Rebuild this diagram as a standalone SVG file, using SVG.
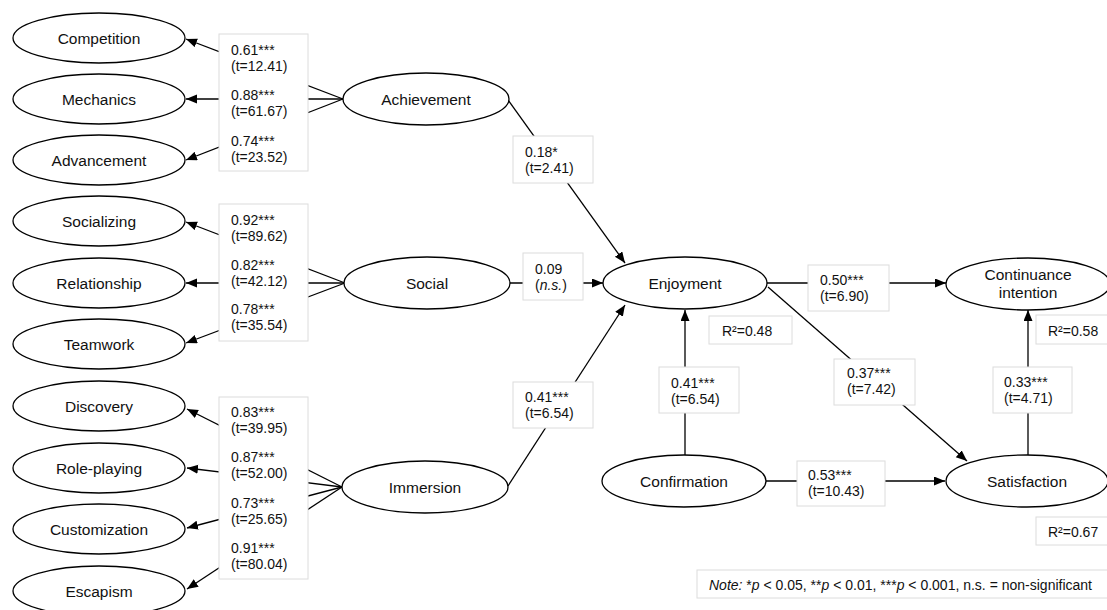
<svg xmlns="http://www.w3.org/2000/svg" width="1107" height="610" viewBox="0 0 1107 610">
<style>
.node{fill:#fff;stroke:#000;stroke-width:1.3}
.nl{font-family:"Liberation Sans",Arial,sans-serif;font-size:15.5px;fill:#111;text-anchor:middle}
.edge{stroke:#000;stroke-width:1.3;fill:none}
.box{fill:#fff;stroke:#dcdcdc;stroke-width:1}
.lb{font-family:"Liberation Sans",Arial,sans-serif;font-size:14px;fill:#111}
</style>
<defs>
<marker id="ah" markerUnits="userSpaceOnUse" markerWidth="12" markerHeight="10" refX="11" refY="4.5" orient="auto">
<path d="M0,0 L11,4.5 L0,9 z" fill="#000"/>
</marker>
</defs>
<rect width="1107" height="610" fill="#fff"/>
<g id="connectors">
<line class="edge" x1="343" y1="99" x2="186" y2="39" marker-end="url(#ah)"/>
<line class="edge" x1="343" y1="99" x2="186" y2="99" marker-end="url(#ah)"/>
<line class="edge" x1="343" y1="99" x2="186" y2="160" marker-end="url(#ah)"/>
<line class="edge" x1="345" y1="283" x2="186" y2="222" marker-end="url(#ah)"/>
<line class="edge" x1="345" y1="283" x2="186" y2="283" marker-end="url(#ah)"/>
<line class="edge" x1="345" y1="283" x2="186" y2="343" marker-end="url(#ah)"/>
<line class="edge" x1="342" y1="487" x2="187" y2="409" marker-end="url(#ah)"/>
<line class="edge" x1="342" y1="487" x2="187" y2="468" marker-end="url(#ah)"/>
<line class="edge" x1="342" y1="487" x2="187" y2="528" marker-end="url(#ah)"/>
<line class="edge" x1="342" y1="487" x2="187" y2="589" marker-end="url(#ah)"/>
<line class="edge" x1="508" y1="100" x2="625" y2="263" marker-end="url(#ah)"/>
<line class="edge" x1="510" y1="283" x2="603" y2="283" marker-end="url(#ah)"/>
<line class="edge" x1="508" y1="486" x2="625" y2="305" marker-end="url(#ah)"/>
<line class="edge" x1="767" y1="283" x2="946" y2="283" marker-end="url(#ah)"/>
<line class="edge" x1="768" y1="287" x2="967" y2="461" marker-end="url(#ah)"/>
<line class="edge" x1="685" y1="455" x2="685" y2="310" marker-end="url(#ah)"/>
<line class="edge" x1="766" y1="481" x2="945" y2="481" marker-end="url(#ah)"/>
<line class="edge" x1="1028" y1="455" x2="1028" y2="310" marker-end="url(#ah)"/>
</g>
<g id="labels">
<rect class="box" x="219" y="34" width="89" height="137"/>
<text class="lb" x="231" y="55">0.61***</text><text class="lb" x="231" y="71">(t=12.41)</text>
<text class="lb" x="231" y="100">0.88***</text><text class="lb" x="231" y="116">(t=61.67)</text>
<text class="lb" x="231" y="146">0.74***</text><text class="lb" x="231" y="162">(t=23.52)</text>
<rect class="box" x="219" y="204" width="89" height="137"/>
<text class="lb" x="231" y="225">0.92***</text><text class="lb" x="231" y="241">(t=89.62)</text>
<text class="lb" x="231" y="270">0.82***</text><text class="lb" x="231" y="286">(t=42.12)</text>
<text class="lb" x="231" y="314">0.78***</text><text class="lb" x="231" y="330">(t=35.54)</text>
<rect class="box" x="219" y="397" width="89" height="182"/>
<text class="lb" x="231" y="417">0.83***</text><text class="lb" x="231" y="433">(t=39.95)</text>
<text class="lb" x="231" y="462">0.87***</text><text class="lb" x="231" y="478">(t=52.00)</text>
<text class="lb" x="231" y="508">0.73***</text><text class="lb" x="231" y="524">(t=25.65)</text>
<text class="lb" x="231" y="553">0.91***</text><text class="lb" x="231" y="569">(t=80.04)</text>
<rect class="box" x="513" y="136" width="80" height="47"/>
<text class="lb" x="525" y="157">0.18*</text><text class="lb" x="525" y="173">(t=2.41)</text>
<rect class="box" x="523" y="253" width="60" height="47"/>
<text class="lb" x="535" y="274">0.09</text><text class="lb" x="535" y="290">(<tspan font-style="italic">n.s.</tspan>)</text>
<rect class="box" x="513" y="382" width="80" height="46"/>
<text class="lb" x="525" y="402">0.41***</text><text class="lb" x="525" y="418">(t=6.54)</text>
<rect class="box" x="808" y="265" width="81" height="46"/>
<text class="lb" x="820" y="285">0.50***</text><text class="lb" x="820" y="301">(t=6.90)</text>
<rect class="box" x="709" y="316" width="83" height="28"/>
<text class="lb" x="722" y="336">R²=0.48</text>
<rect class="box" x="1036" y="315" width="80" height="29"/>
<text class="lb" x="1048" y="336">R²=0.58</text>
<rect class="box" x="659" y="367" width="80" height="46"/>
<text class="lb" x="671" y="388">0.41***</text><text class="lb" x="671" y="404">(t=6.54)</text>
<rect class="box" x="834" y="359" width="81" height="46"/>
<text class="lb" x="847" y="378">0.37***</text><text class="lb" x="847" y="394">(t=7.42)</text>
<rect class="box" x="993" y="367" width="79" height="46"/>
<text class="lb" x="1004" y="387">0.33***</text><text class="lb" x="1004" y="403">(t=4.71)</text>
<rect class="box" x="797" y="461" width="88" height="45"/>
<text class="lb" x="808" y="480">0.53***</text><text class="lb" x="808" y="496">(t=10.43)</text>
<rect class="box" x="1036" y="517" width="80" height="28"/>
<text class="lb" x="1048" y="537">R²=0.67</text>
<rect class="box" x="697" y="570" width="420" height="28"/>
<text class="lb" x="709" y="590"><tspan font-style="italic">Note:</tspan> *<tspan font-style="italic">p</tspan> &lt; 0.05, **<tspan font-style="italic">p</tspan> &lt; 0.01, ***<tspan font-style="italic">p</tspan> &lt; 0.001, n.s. = non-significant</text>
</g>
<g id="competition"><ellipse class="node" cx="99" cy="38" rx="86" ry="25"/><text class="nl" x="99" y="43.5">Competition</text></g>
<g id="mechanics"><ellipse class="node" cx="99" cy="99" rx="86" ry="25"/><text class="nl" x="99" y="104.5">Mechanics</text></g>
<g id="advancement"><ellipse class="node" cx="99" cy="160" rx="86" ry="25"/><text class="nl" x="99" y="165.5">Advancement</text></g>
<g id="socializing"><ellipse class="node" cx="99" cy="221" rx="86" ry="25"/><text class="nl" x="99" y="226.5">Socializing</text></g>
<g id="relationship"><ellipse class="node" cx="99" cy="283" rx="86" ry="25"/><text class="nl" x="99" y="288.5">Relationship</text></g>
<g id="teamwork"><ellipse class="node" cx="99" cy="344" rx="86" ry="25"/><text class="nl" x="99" y="349.5">Teamwork</text></g>
<g id="discovery"><ellipse class="node" cx="99" cy="406" rx="86" ry="25"/><text class="nl" x="99" y="411.5">Discovery</text></g>
<g id="role-playing"><ellipse class="node" cx="99" cy="468" rx="86" ry="25"/><text class="nl" x="99" y="473.5">Role-playing</text></g>
<g id="customization"><ellipse class="node" cx="99" cy="529" rx="86" ry="25"/><text class="nl" x="99" y="534.5">Customization</text></g>
<g id="escapism"><ellipse class="node" cx="99" cy="591" rx="86" ry="25"/><text class="nl" x="99" y="596.5">Escapism</text></g>
<g id="achievement"><ellipse class="node" cx="426" cy="99" rx="83" ry="26"/><text class="nl" x="426" y="104.5">Achievement</text></g>
<g id="social"><ellipse class="node" cx="427" cy="283" rx="83" ry="26"/><text class="nl" x="427" y="288.5">Social</text></g>
<g id="immersion"><ellipse class="node" cx="425" cy="487" rx="83" ry="26"/><text class="nl" x="425" y="492.5">Immersion</text></g>
<g id="enjoyment"><ellipse class="node" cx="685" cy="283" rx="82" ry="26"/><text class="nl" x="685" y="288.5">Enjoyment</text></g>
<g id="continuance"><ellipse class="node" cx="1028" cy="284" rx="82" ry="26"/><text class="nl" x="1028" y="280">Continuance</text><text class="nl" x="1028" y="298">intention</text></g>
<g id="confirmation"><ellipse class="node" cx="684" cy="481" rx="82" ry="26"/><text class="nl" x="684" y="486.5">Confirmation</text></g>
<g id="satisfaction"><ellipse class="node" cx="1027" cy="481" rx="81" ry="26"/><text class="nl" x="1027" y="486.5">Satisfaction</text></g>
</svg>
